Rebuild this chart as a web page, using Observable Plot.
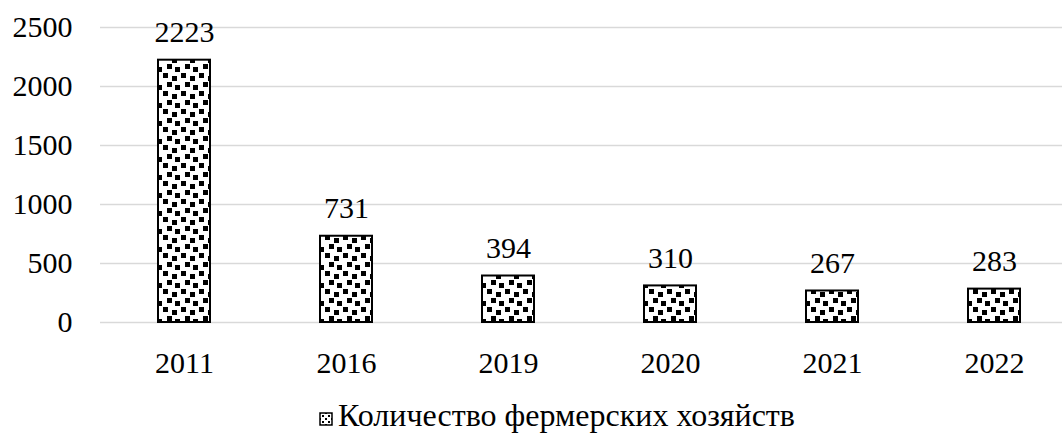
<!DOCTYPE html>
<html>
<head>
<meta charset="utf-8">
<script src="https://cdn.jsdelivr.net/npm/d3@7"></script>
<script src="https://cdn.jsdelivr.net/npm/@observablehq/plot@0.6"></script>
<style>
  html, body { margin: 0; padding: 0; background: #fff; }
  #wrap { position: relative; width: 1062px; height: 434px; font-family: "Liberation Serif", Tinos, "Times New Roman", Times, "DejaVu Serif", serif; }
  #legend { position: absolute; top: 398px; left: 319px; text-align: left; font-size: 32px; line-height: 34px; color: #000; white-space: nowrap; }
  #legend svg { vertical-align: 0px; margin-right: 5px; }
  #chart svg text { font-family: "Liberation Serif", Tinos, "Times New Roman", Times, "DejaVu Serif", serif; }
</style>
</head>
<body>
<div id="wrap">
  <div id="chart"></div>
  <div id="legend"></div>
</div>
<script>
const years = ["2011", "2016", "2019", "2020", "2021", "2022"];
const counts = [2223, 731, 394, 310, 267, 283];
const yTicks = [0, 500, 1000, 1500, 2000, 2500];
const seriesName = "Количество фермерских хозяйств";

const data = years.map((y, i) => ({year: y, value: counts[i]}));

const patternDefs = `
<pattern id="confetti" patternUnits="userSpaceOnUse" width="18" height="18">
  <rect width="18" height="18" fill="#fff"/>
  <rect x="1" y="1" width="5" height="5" fill="#000"/>
  <rect x="10" y="4" width="5" height="5" fill="#000"/>
  <rect x="5" y="10" width="5" height="5" fill="#000"/>
  <rect x="13" y="13" width="5" height="5" fill="#000"/>
</pattern>`;

const chart = Plot.plot({
  width: 1062,
  height: 390,
  marginLeft: 100,
  marginRight: 0,
  marginTop: 27,
  marginBottom: 68,
  style: {fontFamily: "Liberation Serif, Tinos, Times New Roman, serif", fontSize: "30px", color: "#000", background: "#fff"},
  x: {domain: years, range: [101, 1076], paddingInner: 0.68, paddingOuter: 0.34, label: null},
  y: {domain: [0, 2500], label: null},
  marks: [
    Plot.ruleY(yTicks, {stroke: "#d9d9d9", strokeWidth: 1.3}),
    Plot.barY(data, {x: "year", y: "value", fill: "url(#confetti)", stroke: "#000", strokeWidth: 2}),
    Plot.text(data, {x: "year", y: "value", text: d => String(d.value), lineAnchor: "bottom", dy: -18, fill: "#000", fontSize: 30}),
    Plot.axisY({ticks: yTicks, tickSize: 0, tickPadding: 28, tickFormat: d => String(d), fontSize: 30, label: null}),
    Plot.axisX({tickSize: 0, tickPadding: 29, fontSize: 30, label: null})
  ]
});

const defs = document.createElementNS("http://www.w3.org/2000/svg", "defs");
defs.innerHTML = patternDefs;
chart.insertBefore(defs, chart.firstChild);
document.getElementById("chart").appendChild(chart);

document.getElementById("legend").innerHTML =
  `<svg width="14" height="14" viewBox="0 0 14 14"><defs><pattern id="confettiS" patternUnits="userSpaceOnUse" width="6" height="6"><rect width="6" height="6" fill="#fff"/><rect x="0" y="0" width="2" height="2" fill="#000"/><rect x="3" y="3" width="2" height="2" fill="#000"/></pattern></defs><rect x="1" y="1" width="12" height="12" fill="url(#confettiS)" stroke="#000" stroke-width="1.5"/></svg>` +
  `<span>${seriesName}</span>`;
</script>
</body>
</html>
